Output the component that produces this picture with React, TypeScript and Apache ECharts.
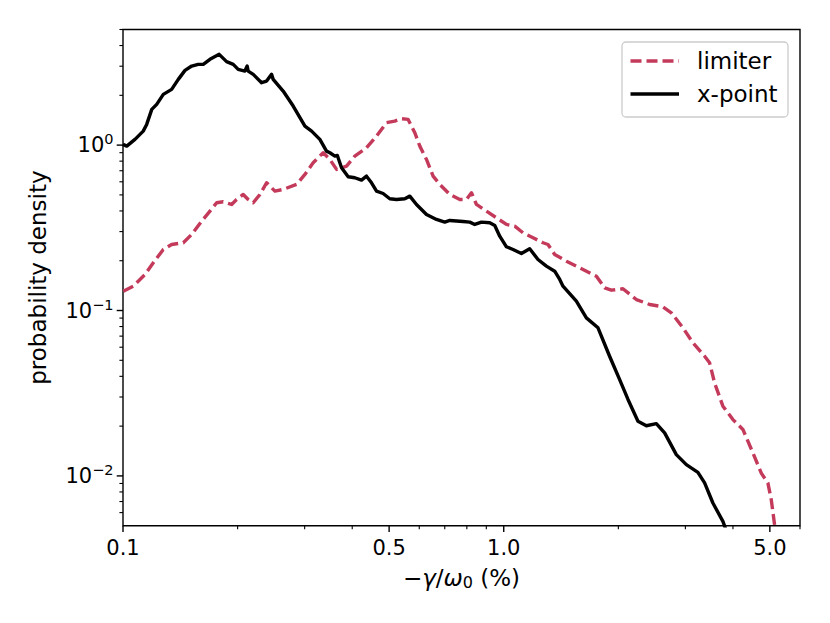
import React, { useEffect, useRef } from 'react';
import * as echarts from 'echarts';

// ---- axis ranges & ticks ----
const X_MIN = 0.1;
const X_MAX = 6;
const Y_MIN = 0.005;
const Y_MAX = 5;
const xTickValues = [0.1, 0.5, 1, 5];
const xTickLabels = ['0.1', '0.5', '1.0', '5.0'];
const xMinorTicks = [0.2, 0.3, 0.4, 0.6, 0.7, 0.8, 0.9, 2, 3, 4, 6];
const yTickValues = [0.01, 0.1, 1];
const yTickExponents = ['\u22122', '\u22121', '0'];
const yMinorTicks = [
  0.006, 0.007, 0.008, 0.009,
  0.02, 0.03, 0.04, 0.05, 0.06, 0.07, 0.08, 0.09,
  0.2, 0.3, 0.4, 0.5, 0.6, 0.7, 0.8, 0.9,
  2, 3, 4, 5,
];

// ---- series ----
const seriesNames = ['limiter', 'x-point'];
const limiterData = [
  [0.1002, 0.1308], [0.1064, 0.1403], [0.1142, 0.1651], [0.1201, 0.1943], [0.1276, 0.2339],
  [0.1342, 0.2507], [0.144, 0.2568], [0.1515, 0.2883], [0.1609, 0.3469], [0.1692, 0.3988],
  [0.1762, 0.4482], [0.1833, 0.4545], [0.1929, 0.4377], [0.1988, 0.4693], [0.2069, 0.5031],
  [0.2132, 0.4693], [0.2198, 0.4482], [0.2289, 0.5031], [0.2383, 0.5924], [0.2506, 0.5268],
  [0.2634, 0.5395], [0.2857, 0.5784], [0.3005, 0.665], [0.3158, 0.7825], [0.3356, 0.8995],
  [0.3494, 0.8194], [0.3639, 0.7129], [0.3865, 0.7464], [0.4063, 0.858], [0.4361, 0.9645],
  [0.4633, 1.134], [0.4922, 1.366], [0.5174, 1.397], [0.5389, 1.444], [0.5609, 1.43],
  [0.584, 1.189], [0.602, 0.986], [0.6268, 0.8194], [0.6523, 0.6494], [0.6792, 0.5784],
  [0.7217, 0.5031], [0.7666, 0.4693], [0.7983, 0.4693], [0.8228, 0.5152], [0.848, 0.4377],
  [0.9006, 0.3988], [0.9568, 0.3638], [1.0165, 0.3314], [1.0688, 0.3236], [1.1236, 0.2951],
  [1.194, 0.2754], [1.2681, 0.2568], [1.307, 0.2507], [1.361, 0.2182], [1.461, 0.1987],
  [1.583, 0.1813], [1.7513, 0.1612], [1.8413, 0.1372], [1.9176, 0.1327], [2.0563, 0.1353],
  [2.23, 0.1165], [2.4166, 0.1087], [2.619, 0.1053], [2.7555, 0.0969], [2.9556, 0.0786],
  [3.1405, 0.0638], [3.3699, 0.0529], [3.4732, 0.0483], [3.5795, 0.0365], [3.764, 0.0264],
  [3.999, 0.0219], [4.2476, 0.0191], [4.512, 0.0138], [4.7475, 0.0104], [4.9405, 0.00907],
  [5.0428, 0.00719], [5.1446, 0.00507], [5.17, 0.0044],
];
const xPointData = [
  [0.1, 1.01], [0.1023, 0.986], [0.1075, 1.083], [0.113, 1.215], [0.1154, 1.334],
  [0.119, 1.644], [0.1226, 1.763], [0.1276, 2.026], [0.1342, 2.173], [0.1397, 2.497],
  [0.1455, 2.83], [0.1515, 3.006], [0.1576, 3.078], [0.1625, 3.078], [0.1692, 3.3],
  [0.1789, 3.538], [0.1871, 3.196], [0.1948, 3.078], [0.2007, 2.871], [0.209, 2.804],
  [0.2119, 3.006], [0.2132, 2.804], [0.2198, 2.677], [0.2312, 2.385], [0.2383, 2.439],
  [0.2456, 2.677], [0.248, 2.497], [0.2634, 2.122], [0.2799, 1.722], [0.3005, 1.303],
  [0.3129, 1.215], [0.3289, 1.083], [0.3424, 0.92], [0.3494, 0.8995], [0.3602, 0.858],
  [0.3656, 0.866], [0.375, 0.73], [0.3903, 0.644], [0.4063, 0.635], [0.4231, 0.614],
  [0.4361, 0.649], [0.4495, 0.592], [0.4633, 0.527], [0.4821, 0.51], [0.502, 0.474],
  [0.5227, 0.469], [0.5497, 0.474], [0.5666, 0.4915], [0.59, 0.4377], [0.6268, 0.3809],
  [0.6658, 0.3553], [0.7, 0.3422], [0.7217, 0.3504], [0.782, 0.3455], [0.8143, 0.3422],
  [0.8393, 0.3314], [0.874, 0.3422], [0.919, 0.3393], [0.9472, 0.3268], [0.9761, 0.2814],
  [1.0165, 0.2428], [1.0578, 0.2339], [1.1128, 0.2212], [1.17, 0.2361], [1.2303, 0.2035],
  [1.2943, 0.1854], [1.361, 0.1729], [1.403, 0.154], [1.431, 0.1403], [1.5514, 0.1138],
  [1.6484, 0.0903], [1.7685, 0.0786], [1.897, 0.0529], [2.016, 0.0382], [2.1202, 0.029],
  [2.252, 0.0214], [2.3691, 0.0201], [2.5165, 0.0207], [2.6461, 0.0182], [2.84, 0.01345],
  [3.017, 0.0117], [3.236, 0.01051], [3.3699, 0.00907], [3.543, 0.00686], [3.764, 0.00531],
  [3.85, 0.0046],
];

const RED = '#c43a5b';
const FONT = 'DejaVu Sans';
const LW = 3.4;
const DASH = [11, 5];

export default function App() {
  const ref = useRef<HTMLDivElement>(null);

  useEffect(() => {
    if (!ref.current) return;
    const chart = echarts.init(ref.current, undefined, { renderer: 'svg' });

    const xTickData = [
      ...xTickValues.map((v, i) => [v, Y_MIN, 1, i]),
      ...xMinorTicks.map((v) => [v, Y_MIN, 0, -1]),
    ];
    const yTickData = [
      ...yTickValues.map((v, i) => [X_MIN, v, 1, i]),
      ...yMinorTicks.map((v) => [X_MIN, v, 0, -1]),
    ];

    const option: any = {
      animation: false,
      grid: {
        left: 123,
        right: 30,
        top: 29.5,
        bottom: 97.3,
        show: true,
        borderColor: '#000',
        borderWidth: 1.4,
        backgroundColor: 'transparent',
      },
      xAxis: {
        type: 'log',
        logBase: 10,
        min: X_MIN,
        max: X_MAX,
        axisLine: { show: false },
        axisTick: { show: false },
        axisLabel: { show: false },
        splitLine: { show: false },
        minorTick: { show: false },
      },
      yAxis: {
        type: 'log',
        logBase: 10,
        min: Y_MIN,
        max: Y_MAX,
        axisLine: { show: false },
        axisTick: { show: false },
        axisLabel: { show: false },
        splitLine: { show: false },
        minorTick: { show: false },
      },
      series: [
        {
          name: seriesNames[0],
          type: 'line',
          data: limiterData,
          showSymbol: false,
          symbol: 'none',
          clip: true,
          lineStyle: { color: RED, width: LW, type: DASH, cap: 'butt', join: 'round' },
          emphasis: { disabled: true },
          silent: true,
          z: 3,
        },
        {
          name: seriesNames[1],
          type: 'line',
          data: xPointData,
          showSymbol: false,
          symbol: 'none',
          clip: true,
          lineStyle: { color: '#000', width: LW, join: 'round' },
          emphasis: { disabled: true },
          silent: true,
          z: 4,
        },
        {
          type: 'custom',
          silent: true,
          data: xTickData,
          encode: { x: 0, y: 1 },
          z: 5,
          renderItem: (params: any, api: any) => {
            const v = api.value(0);
            const major = api.value(2) === 1;
            const idx = api.value(3);
            const p = api.coord([v, Y_MIN]);
            const children: any[] = [
              {
                type: 'line',
                shape: { x1: p[0], y1: p[1], x2: p[0], y2: p[1] + (major ? 6.3 : 3.6) },
                style: { stroke: '#000', lineWidth: major ? 1.4 : 1.1 },
              },
            ];
            if (major) {
              children.push({
                type: 'text',
                x: p[0],
                y: p[1] + 22,
                style: {
                  text: xTickLabels[idx],
                  fill: '#000',
                  fontFamily: FONT,
                  fontSize: 21,
                  align: 'center',
                  verticalAlign: 'middle',
                },
              });
            }
            return { type: 'group', children };
          },
        },
        {
          type: 'custom',
          silent: true,
          data: yTickData,
          encode: { x: 0, y: 1 },
          z: 5,
          renderItem: (params: any, api: any) => {
            const v = api.value(1);
            const major = api.value(2) === 1;
            const idx = api.value(3);
            const p = api.coord([X_MIN, v]);
            const children: any[] = [
              {
                type: 'line',
                shape: { x1: p[0] - (major ? 6.3 : 3.6), y1: p[1], x2: p[0], y2: p[1] },
                style: { stroke: '#000', lineWidth: major ? 1.4 : 1.1 },
              },
            ];
            if (major) {
              children.push({
                type: 'text',
                x: p[0] - 9.5,
                y: p[1],
                style: {
                  text: '{b|10}{s|' + yTickExponents[idx] + '}',
                  fill: '#000',
                  align: 'right',
                  verticalAlign: 'middle',
                  rich: {
                    b: { fontFamily: FONT, fontSize: 21, fill: '#000' },
                    s: { fontFamily: FONT, fontSize: 14.5, fill: '#000', padding: [0, 0, 12, 0] },
                  },
                },
              });
            }
            return { type: 'group', children };
          },
        },
      ],
      graphic: [
        {
          type: 'text',
          x: 38,
          y: 277.6,
          rotation: Math.PI / 2,
          style: {
            text: 'probability density',
            fill: '#000',
            fontFamily: FONT,
            fontSize: 23,
            align: 'center',
            verticalAlign: 'middle',
          },
        },
        {
          type: 'text',
          x: 461.5,
          y: 578,
          style: {
            text: '{n|\u2212}{i|\u03b3}{n|/}{i|\u03c9}{s|0}{n| (%)}',
            fill: '#000',
            align: 'center',
            verticalAlign: 'middle',
            rich: {
              n: { fontFamily: FONT, fontSize: 23, fill: '#000' },
              i: { fontFamily: FONT, fontSize: 23, fontStyle: 'italic', fill: '#000' },
              s: { fontFamily: FONT, fontSize: 16, fill: '#000', padding: [9, 0, 0, 0] },
            },
          },
        },
        {
          type: 'rect',
          shape: { x: 622, y: 42, width: 166, height: 75, r: 4 },
          style: { fill: 'rgba(255,255,255,0.8)', stroke: '#cccccc', lineWidth: 1.3 },
          z: 10,
        },
        {
          type: 'line',
          shape: { x1: 630.5, y1: 61, x2: 679, y2: 61 },
          style: { stroke: RED, lineWidth: LW, lineDash: DASH },
          z: 11,
        },
        {
          type: 'line',
          shape: { x1: 630.5, y1: 94, x2: 679, y2: 94 },
          style: { stroke: '#000', lineWidth: LW },
          z: 11,
        },
        {
          type: 'text',
          x: 697,
          y: 61,
          style: {
            text: seriesNames[0],
            fill: '#000',
            fontFamily: FONT,
            fontSize: 23,
            align: 'left',
            verticalAlign: 'middle',
          },
          z: 11,
        },
        {
          type: 'text',
          x: 697,
          y: 94,
          style: {
            text: seriesNames[1],
            fill: '#000',
            fontFamily: FONT,
            fontSize: 23,
            align: 'left',
            verticalAlign: 'middle',
          },
          z: 11,
        },
      ],
    };

    chart.setOption(option);
    return () => {
      chart.dispose();
    };
  }, []);

  return (
    <div
      ref={ref}
      style={{ position: 'absolute', left: 0, top: 0, width: 830, height: 623, background: '#fff' }}
    />
  );
}
